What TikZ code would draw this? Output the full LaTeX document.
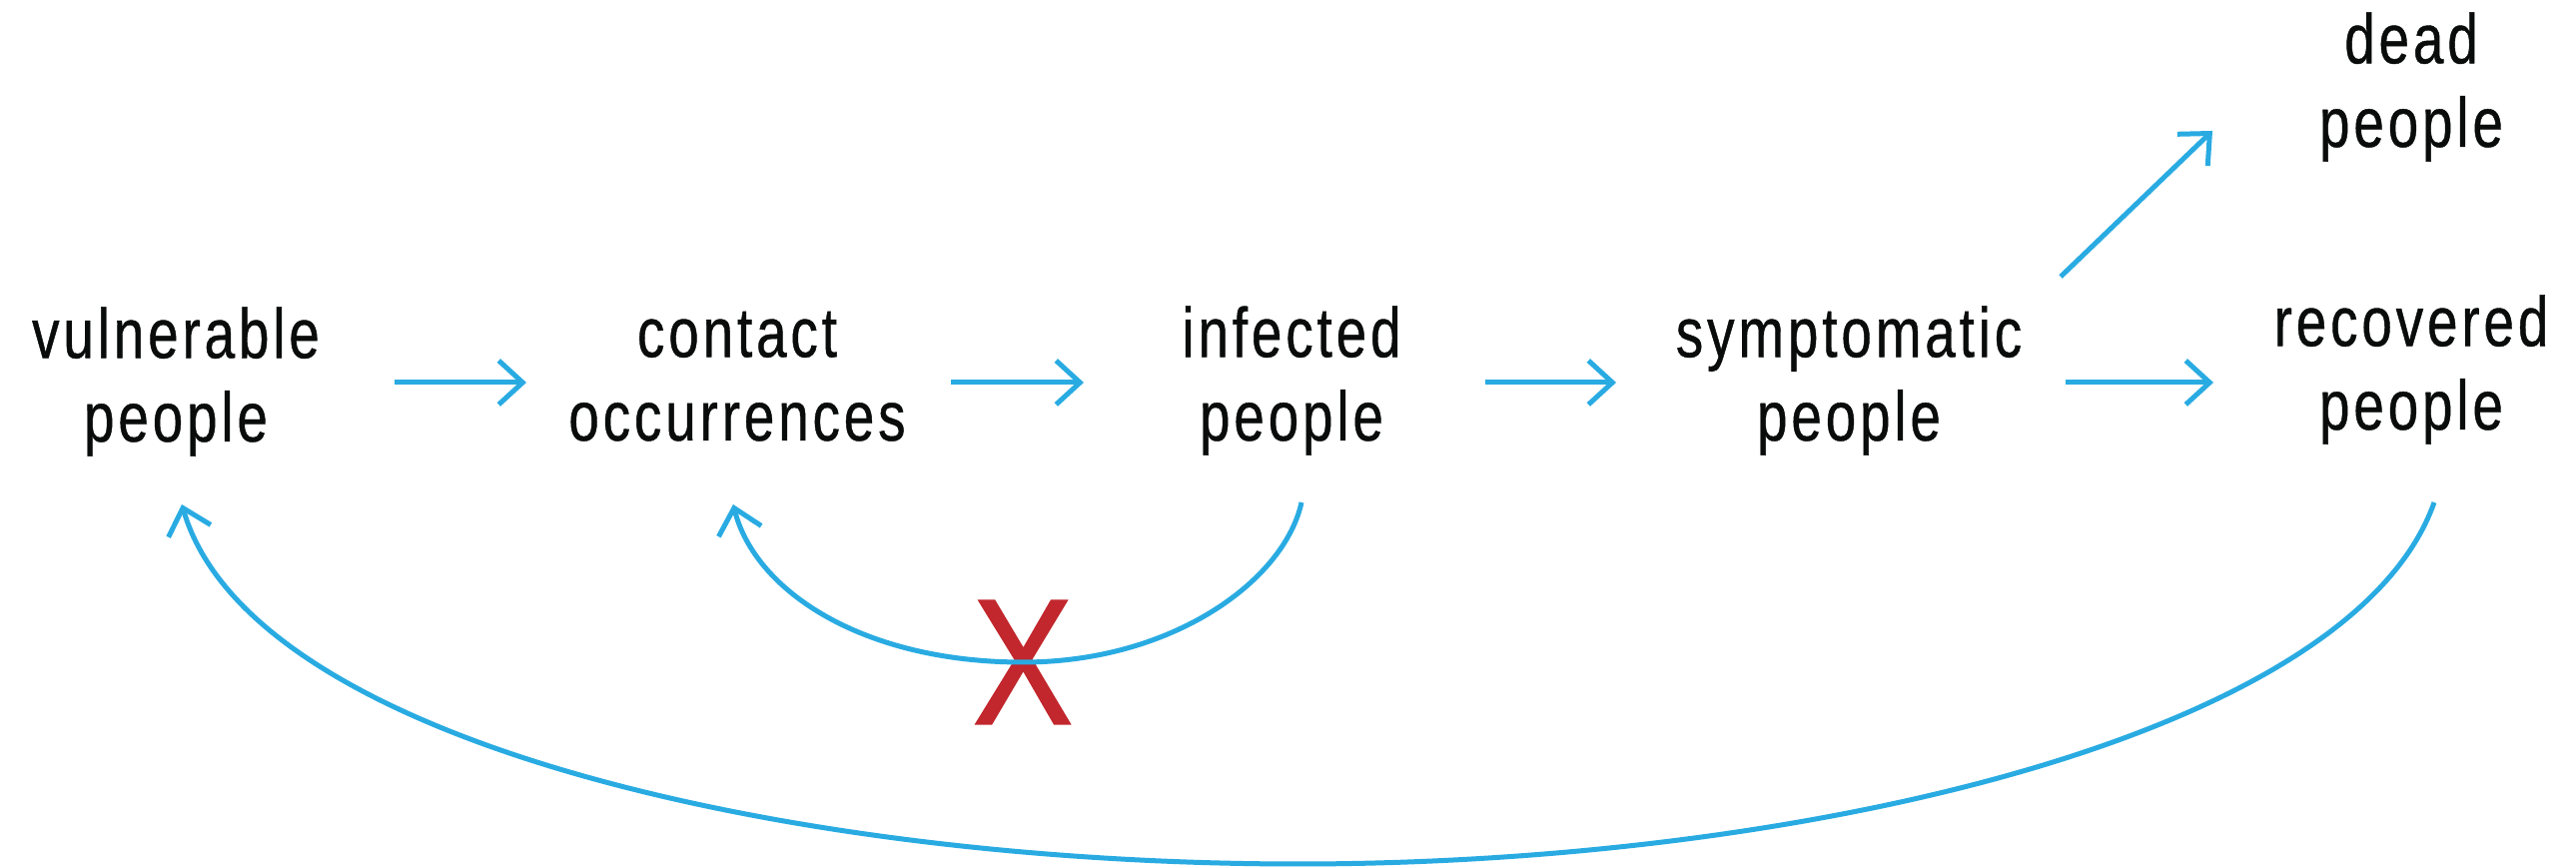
\documentclass[tikz,border=0pt]{standalone}
\usepackage{fontspec}
\setmainfont[FakeStretch=0.78,LetterSpace=5.5,FakeBold=0.6]{Liberation Sans}
\newfontfamily\crossfont[FakeStretch=0.84,FakeBold=1]{Liberation Sans}
\usetikzlibrary{arrows.meta}
\definecolor{flowblue}{HTML}{29ABE2}
\definecolor{crossred}{HTML}{C1272D}
\definecolor{ink}{HTML}{0A0C0C}

\begin{document}
\begin{tikzpicture}[x=0.1mm, y=0.1mm,
  lbl/.style={anchor=base, align=center, inner sep=0pt, text=ink,
    font=\fontsize{20}{23.8}\selectfont},
  flow/.style={draw=flowblue, line width=0.5mm,
    -{Straight Barb[length=2.4mm,width=4.4mm]}},
  crossmark/.style={inner sep=0pt, text=crossred,
    font=\crossfont\fontsize{51}{51}\selectfont}]
  \useasboundingbox (0,0) rectangle (2579,869);

  % compartments (base = last line)
  \node[lbl] (vul)  at (176,427)  {vulnerable\\people};
  \node[lbl] (con)  at (738,428)  {contact\\occurrences};
  \node[lbl] (inf)  at (1293,428) {infected\\people};
  \node[lbl] (sym)  at (1851,428) {symptomatic\\people};
  \node[lbl] (rec)  at (2414,439) {recovered\\people};
  \node[lbl] (dead) at (2414,722) {dead\\people};
  \node[crossmark] (cross) at (1024,206) {X};

  % forward flow
  \draw[flow] ([shift={(219,59)}]vul.base) -- ([shift={(-211,58)}]con.base);
  \draw[flow] ([shift={(214,58)}]con.base) -- ([shift={(-208,58)}]inf.base);
  \draw[flow] ([shift={(194,58)}]inf.base) -- ([shift={(-233,58)}]sym.base);
  \draw[flow] ([shift={(217,58)}]sym.base) -- ([shift={(-198,47)}]rec.base);
  \draw[flow] ([shift={(212,164)}]sym.base) -- ([shift={(-199,16)}]dead.base);

  % feedback loops
  \draw[flow] ([shift={(10,-62)}]inf.base) .. controls +(-17,-78) and +(150,0) .. (cross.center)
    .. controls +(-160,0) and +(22,-87) .. ([shift={(-4,-64)}]con.base);
  \draw[flow] ([shift={(23,-73)}]rec.base) .. controls +(-83,-235) and +(500,0) .. (1300,4)
    .. controls +(-500,0) and +(70,-240) .. ([shift={(6,-63)}]vul.base);
\end{tikzpicture}
\end{document}
